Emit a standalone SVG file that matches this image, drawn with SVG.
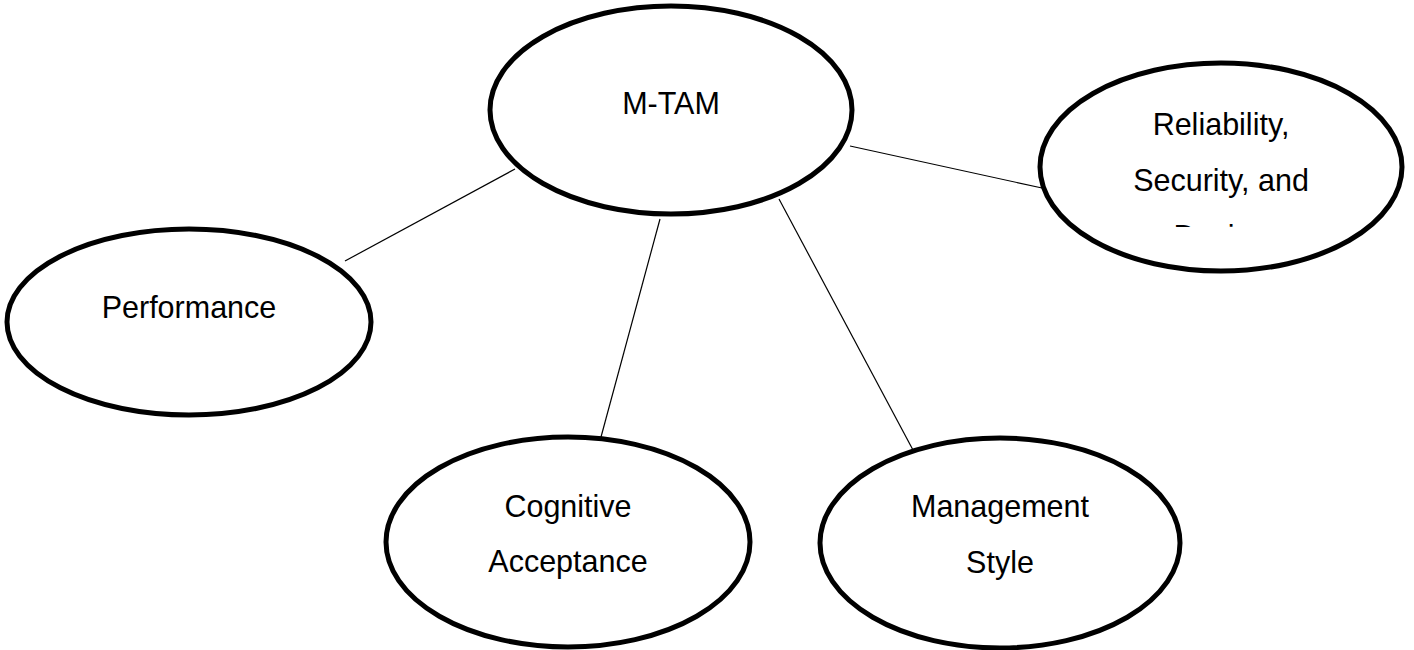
<svg xmlns="http://www.w3.org/2000/svg" width="1414" height="650" viewBox="0 0 1414 650">
  <style>
    .node ellipse { fill: #ffffff; stroke: #000000; stroke-width: 5; }
    .node text { font-family: "Liberation Sans", Arial, sans-serif; font-size: 30.5px; fill: #000000; text-anchor: middle; }
    #connectors line { stroke: #000000; stroke-width: 1.2; }
  </style>
  <defs>
    <clipPath id="clip-reliability">
      <rect x="1040" y="60" width="370" height="167"/>
    </clipPath>
  </defs>
  <rect width="1414" height="650" fill="#ffffff"/>

  <g id="connectors">
    <line x1="515" y1="169" x2="345" y2="261"/>
    <line x1="850" y1="146" x2="1042" y2="188"/>
    <line x1="660" y1="219" x2="601" y2="437"/>
    <line x1="779" y1="199" x2="913" y2="450"/>
  </g>

  <g id="node-mtam" class="node">
    <ellipse cx="671" cy="110" rx="181" ry="104"/>
    <text x="671" y="114">M-TAM</text>
  </g>

  <g id="node-performance" class="node">
    <ellipse cx="189" cy="322" rx="182" ry="93"/>
    <text x="189" y="318">Performance</text>
  </g>

  <g id="node-reliability" class="node">
    <ellipse cx="1221" cy="167" rx="181" ry="104"/>
    <g clip-path="url(#clip-reliability)">
      <text x="1221" y="135">Reliability,</text>
      <text x="1221" y="191">Security, and</text>
      <text x="1221" y="247">Design</text>
    </g>
  </g>

  <g id="node-cognitive" class="node">
    <ellipse cx="568" cy="542" rx="182" ry="105"/>
    <text x="568" y="517">Cognitive</text>
    <text x="568" y="572">Acceptance</text>
  </g>

  <g id="node-management" class="node">
    <ellipse cx="1000" cy="543" rx="180" ry="105"/>
    <text x="1000" y="517">Management</text>
    <text x="1000" y="573">Style</text>
  </g>
</svg>
